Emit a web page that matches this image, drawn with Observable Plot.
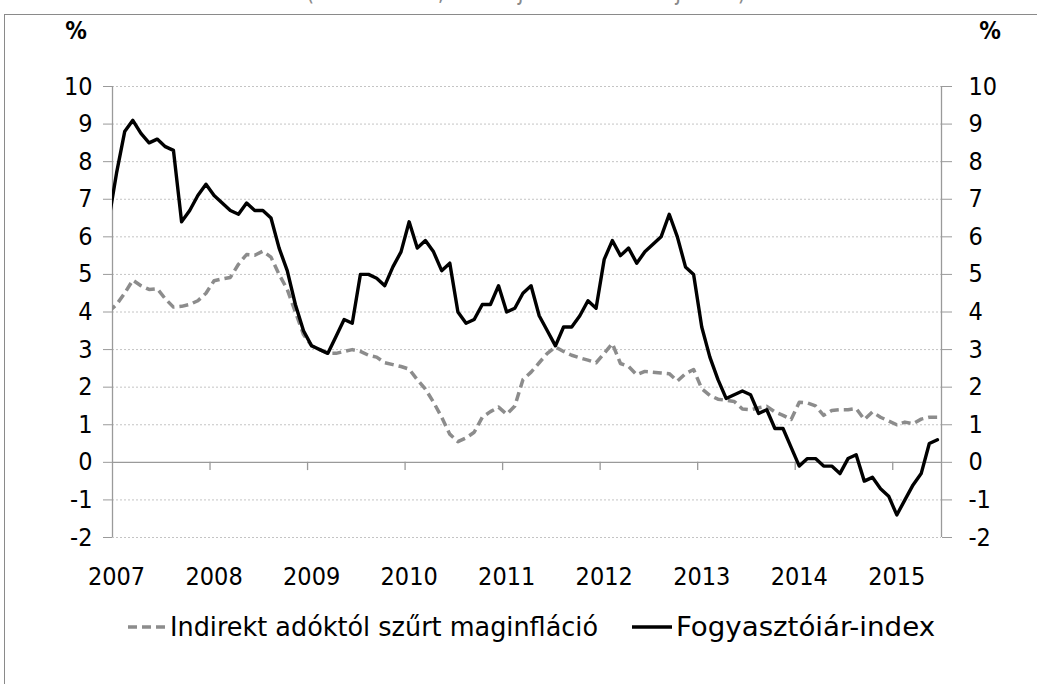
<!DOCTYPE html>
<html>
<head>
<meta charset="utf-8">
<script src="https://cdn.jsdelivr.net/npm/d3@7"></script>
<script src="https://cdn.jsdelivr.net/npm/@observablehq/plot@0.6"></script>
<style>
  html, body { margin: 0; padding: 0; background: #fff; }
  #wrap { position: relative; width: 1037px; height: 684px; overflow: hidden; background: #fff;
          font-family: "DejaVu Sans Condensed", "Liberation Sans Narrow", sans-serif; }
  #frame { position: absolute; left: 4px; top: 14px; width: 1100px; height: 700px;
           border-left: 1.5px solid #8a8a8a; border-top: 1.5px solid #8a8a8a; box-sizing: border-box; }
  #chart { position: absolute; left: 0; top: 0; }
  #overlay { position: absolute; left: 0; top: 0; pointer-events: none; }
</style>
</head>
<body>
<div id="wrap">
  <div id="frame"></div>
  <div id="chart"></div>
  <svg id="overlay" width="1037" height="684"></svg>
</div>
<script>
// ---- data (monthly, Dec 2006 .. Jun 2015; Dec 2006 is clipped at the axis) ----
const firstMonthIndex = -1; // -1 = 2006 Dec, 0 = 2007 Jan
const cpi = [
  6.4,
  7.7, 8.8, 9.1, 8.75, 8.5, 8.6, 8.4, 8.3, 6.4, 6.7, 7.1, 7.4,
  7.1, 6.9, 6.7, 6.6, 6.9, 6.7, 6.7, 6.5, 5.7, 5.1, 4.2, 3.5,
  3.1, 3.0, 2.9, 3.35, 3.8, 3.7, 5.0, 5.0, 4.9, 4.7, 5.2, 5.6,
  6.4, 5.7, 5.9, 5.6, 5.1, 5.3, 4.0, 3.7, 3.8, 4.2, 4.2, 4.7,
  4.0, 4.1, 4.5, 4.7, 3.9, 3.5, 3.1, 3.6, 3.6, 3.9, 4.3, 4.1,
  5.4, 5.9, 5.5, 5.7, 5.3, 5.6, 5.8, 6.0, 6.6, 6.0, 5.2, 5.0,
  3.6, 2.8, 2.2, 1.7, 1.8, 1.9, 1.8, 1.3, 1.4, 0.9, 0.9, 0.4,
  -0.1, 0.1, 0.1, -0.1, -0.1, -0.3, 0.1, 0.2, -0.5, -0.4, -0.7, -0.9,
  -1.4, -1.0, -0.6, -0.3, 0.5, 0.6
];
const core = [
  4.0,
  4.2, 4.5, 4.85, 4.7, 4.6, 4.62, 4.35, 4.13, 4.15, 4.2, 4.3, 4.5,
  4.83, 4.88, 4.92, 5.27, 5.53, 5.51, 5.62, 5.46, 5.0, 4.6, 4.0, 3.4,
  3.1, 3.0, 2.9, 2.9, 2.95, 3.0, 2.95, 2.85, 2.8, 2.65, 2.6, 2.55,
  2.48, 2.2, 1.95, 1.6, 1.2, 0.75, 0.55, 0.65, 0.8, 1.2, 1.35, 1.47,
  1.28, 1.5, 2.2, 2.4, 2.65, 2.9, 3.07, 2.95, 2.85, 2.78, 2.72, 2.65,
  2.9, 3.16, 2.63, 2.55, 2.33, 2.42, 2.4, 2.38, 2.36, 2.16, 2.36, 2.47,
  1.96, 1.78, 1.68, 1.65, 1.62, 1.42, 1.4, 1.45, 1.49, 1.34, 1.25, 1.14,
  1.6, 1.58, 1.5, 1.25, 1.38, 1.4, 1.4, 1.43, 1.14, 1.34, 1.2, 1.1,
  1.0, 1.07, 1.03, 1.15, 1.2, 1.2
];
const yearLabels = ["2007", "2008", "2009", "2010", "2011", "2012", "2013", "2014", "2015"];
const yTicks = [-2, -1, 0, 1, 2, 3, 4, 5, 6, 7, 8, 9, 10];
const seriesNames = ["Indirekt adóktól szűrt maginfláció", "Fogyasztóiár-index"];
const titleText = "(havi adatok, 2007. január – 2015. június)";

// ---- build tables ----
const cpiData = cpi.map((v, k) => ({i: firstMonthIndex + k, v}));
const coreData = core.map((v, k) => ({i: firstMonthIndex + k, v}));
const yearPos = yearLabels.map((y, k) => k * 12);          // January of each year
const yearBounds = yearLabels.map((y, k) => k * 12 - 0.5).slice(1); // tick marks between Dec and Jan
const xDomain = [-0.5, (cpi.length - 1 + firstMonthIndex) + 0.5];

const FONT = '"DejaVu Sans Condensed", "Liberation Sans Narrow", sans-serif';
const AXIS = "#9a9a9a";
const fmt = d => String(d); // plain hyphen-minus, as in the original

const chart = Plot.plot({
  width: 1037,
  height: 684,
  marginLeft: 112,
  marginRight: 96,
  marginTop: 86,
  marginBottom: 147,
  style: {fontFamily: FONT, fontSize: "25px", background: "transparent", color: "#000"},
  x: {type: "linear", domain: xDomain},
  y: {domain: [-2, 10]},
  marks: [
    Plot.ruleY(yTicks.filter(d => d !== 0), {stroke: "#c4c4c4", strokeWidth: 1, strokeDasharray: "2,2"}),
    Plot.ruleY([0], {stroke: AXIS, strokeWidth: 1.3}),
    Plot.ruleX(xDomain, {y1: -2, y2: 10, stroke: AXIS, strokeWidth: 1.3}),
    Plot.ruleX(yearBounds, {y1: 0, y2: -0.22, stroke: AXIS, strokeWidth: 1.3}),
    Plot.lineY(coreData, {x: "i", y: "v", stroke: "#8c8c8c", strokeWidth: 3.5,
                          strokeDasharray: "9,5", strokeLinecap: "butt", clip: true}),
    Plot.lineY(cpiData, {x: "i", y: "v", stroke: "#000", strokeWidth: 3.4,
                         strokeLinejoin: "round", clip: true}),
    Plot.axisY(yTicks, {anchor: "left", tickSize: 9, tickPadding: 11, fontSize: 25,
                        stroke: AXIS, fill: "#000", label: null, tickFormat: fmt}),
    Plot.axisY(yTicks, {anchor: "right", tickSize: 10, tickPadding: 17, fontSize: 25,
                        stroke: AXIS, fill: "#000", label: null, tickFormat: fmt}),
    Plot.axisX(yearPos, {anchor: "bottom", tickSize: 0, tickPadding: 30, fontSize: 25,
                         fill: "#000", label: null, tickFormat: (d) => yearLabels[d / 12]})
  ]
});
document.getElementById("chart").appendChild(chart);

// ---- overlay: cut title (as in the original), % unit labels, legend ----
const ov = d3.select("#overlay").style("font-family", FONT);
ov.append("text").attr("x", 306).attr("y", -0.5)
  .attr("font-size", 24).attr("fill", "#8a8a8a")
  .attr("textLength", 440).attr("lengthAdjust", "spacingAndGlyphs").text(titleText);
ov.append("text").attr("x", 76).attr("y", 39).attr("text-anchor", "middle")
  .attr("font-size", 24).attr("font-weight", "bold").text("%");
ov.append("text").attr("x", 990).attr("y", 39).attr("text-anchor", "middle")
  .attr("font-size", 24).attr("font-weight", "bold").text("%");

const legY = 627;
ov.append("line").attr("x1", 128).attr("x2", 165).attr("y1", legY).attr("y2", legY)
  .attr("stroke", "#8c8c8c").attr("stroke-width", 3.5).attr("stroke-dasharray", "9,5");
ov.append("text").attr("x", 170).attr("y", legY + 9).attr("font-size", 26)
  .attr("textLength", 428).attr("lengthAdjust", "spacingAndGlyphs").text(seriesNames[0]);
ov.append("line").attr("x1", 632).attr("x2", 672).attr("y1", legY).attr("y2", legY)
  .attr("stroke", "#000").attr("stroke-width", 3.5);
ov.append("text").attr("x", 676).attr("y", legY + 9).attr("font-size", 26)
  .attr("textLength", 259).attr("lengthAdjust", "spacingAndGlyphs").text(seriesNames[1]);
</script>
</body>
</html>
